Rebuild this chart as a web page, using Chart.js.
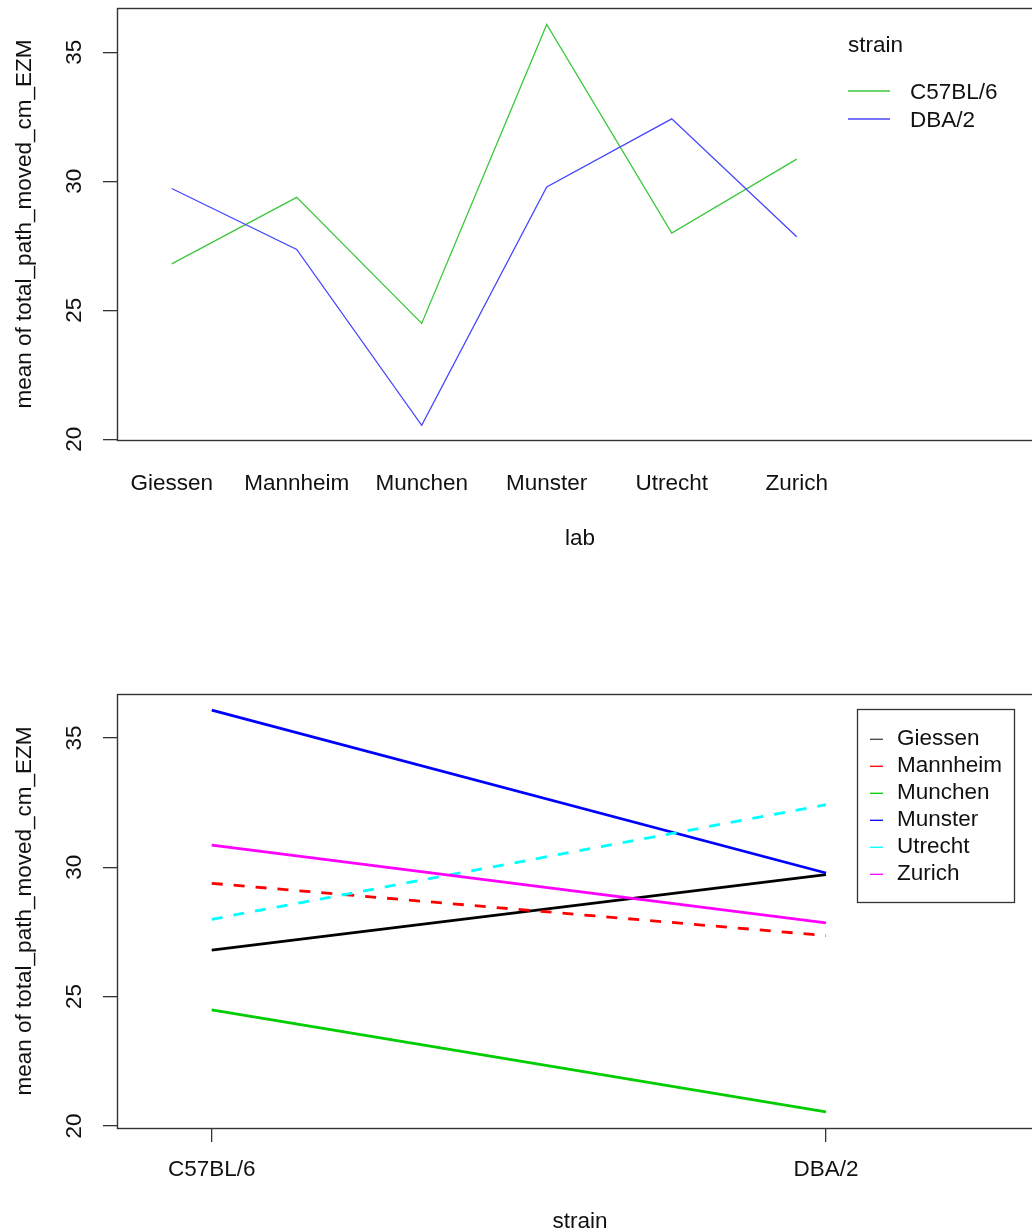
<!DOCTYPE html>
<html>
<head>
<meta charset="utf-8">
<script src="https://cdn.jsdelivr.net/npm/chart.js@4.4.1/dist/chart.umd.min.js"></script>
<style>
  html, body { margin: 0; padding: 0; overflow: hidden; background: #fff; width: 1032px; height: 1232px; }
  canvas { position: absolute; left: 0; }
  #labChart { top: 0; }
  #strainChart { top: 560px; }
</style>
</head>
<body>
<canvas id="labChart" width="1044" height="560"></canvas>
<canvas id="strainChart" width="1044" height="700"></canvas>
<script>
// means
const labs = ['Giessen', 'Mannheim', 'Munchen', 'Munster', 'Utrecht', 'Zurich'];
const strains = ['C57BL/6', 'DBA/2'];
const c57Means = [26.80, 29.38, 24.49, 36.08, 27.99, 30.86];
const dbaMeans = [29.72, 27.36, 20.54, 29.78, 32.42, 27.85];
const yTicks = [20, 25, 30, 35];
const yTitle = 'mean of total_path_moved_cm_EZM';
const traceTitle = 'strain';

const strainColors = ['#3cc83c', '#4646ff'];
const labColors = ['#000000', '#ff0000', '#00cd00', '#0000ff', '#00ffff', '#ff00ff'];
const labLegendColors = ['#444444', '#ff0000', '#00cd00', '#0000ff', '#00ffff', '#ff00ff'];
const labDashed = [false, true, false, false, true, false];

const FONT = "'Liberation Sans', Arial, sans-serif";
const TEXT = '#111';
Chart.defaults.font.family = FONT;
Chart.defaults.font.size = 22.5;
Chart.defaults.color = TEXT;

// force axis box sizes so the plot region lands where R put it
function fixSize(prop, px) {
    return function (scale) {
        scale[prop] = px;
        scale.paddingTop = scale.paddingBottom = scale.paddingLeft = scale.paddingRight = 0;
    };
}

function yAxis(min, max) {
    return {
        type: 'linear',
        min: min,
        max: max,
        afterBuildTicks: s => { s.ticks = yTicks.map(v => ({ value: v })); },
        afterFit: fixSize('width', 117),
        border: { display: false },
        grid: { drawOnChartArea: false, drawTicks: true, tickLength: 14, color: '#333', lineWidth: 1.3 },
        ticks: { minRotation: 90, maxRotation: 90, crossAlign: 'center', padding: 16 },
        title: { display: true, text: yTitle, padding: { top: 11 } }
    };
}

const frame = {
    id: 'frame',
    afterDatasetsDraw(chart) {
        const { ctx, chartArea: a } = chart;
        ctx.save();
        ctx.strokeStyle = '#333';
        ctx.lineWidth = 1.4;
        ctx.strokeRect(Math.round(a.left) + 0.5, Math.round(a.top) + 0.5,
            Math.round(a.right - a.left), Math.round(a.bottom - a.top));
        ctx.restore();
    }
};

// 1. lab on x, one line per strain
const strainLegend = {
    id: 'strainLegend',
    afterDraw(chart) {
        const ctx = chart.ctx;
        ctx.save();
        ctx.font = '22.5px ' + FONT;
        ctx.fillStyle = TEXT;
        ctx.textBaseline = 'middle';
        ctx.textAlign = 'left';
        ctx.fillText(traceTitle, 848, 46);
        chart.data.datasets.forEach((ds, i) => {
            const y = 91 + i * 28;
            ctx.strokeStyle = ds.borderColor;
            ctx.lineWidth = 1.3;
            ctx.beginPath();
            ctx.moveTo(848, y);
            ctx.lineTo(890, y);
            ctx.stroke();
            ctx.fillText(ds.label, 910, y + 1.5);
        });
        ctx.restore();
    }
};

new Chart(document.getElementById('labChart'), {
    type: 'line',
    data: {
        datasets: strains.map((s, k) => ({
            label: s,
            data: [c57Means, dbaMeans][k].map((v, i) => ({ x: i + 1, y: v })),
            borderColor: strainColors[k],
            borderWidth: 1.3,
            pointRadius: 0,
            tension: 0,
            order: -k
        }))
    },
    options: {
        responsive: false,
        devicePixelRatio: 1,
        animation: false,
        layout: { padding: { top: 8, right: 1, left: 0, bottom: 0 } },
        scales: {
            x: {
                type: 'linear',
                min: 0.5624,
                max: 7.970,
                afterBuildTicks: s => { s.ticks = labs.map((l, i) => ({ value: i + 1 })); },
                afterFit: fixSize('height', 120),
                border: { display: false },
                grid: { display: false, drawTicks: false },
                ticks: {
                    autoSkip: false, maxRotation: 0, padding: 30,
                    callback: v => labs[v - 1]
                },
                title: { display: true, text: 'lab', padding: { bottom: 7.5 } }
            },
            y: yAxis(19.97, 36.72)
        },
        plugins: { legend: { display: false }, tooltip: { enabled: false } }
    },
    plugins: [frame, strainLegend]
});

// 2. strain on x, one line per lab
const labLegend = {
    id: 'labLegend',
    afterDraw(chart) {
        const ctx = chart.ctx;
        ctx.save();
        ctx.strokeStyle = '#333';
        ctx.lineWidth = 1.3;
        ctx.strokeRect(857.5, 149.5, 157, 193);
        ctx.font = '22.5px ' + FONT;
        ctx.fillStyle = TEXT;
        ctx.textBaseline = 'middle';
        ctx.textAlign = 'left';
        labs.forEach((lab, i) => {
            const y = 179.3 + i * 27;
            ctx.strokeStyle = labLegendColors[i];
            ctx.lineWidth = 1.3;
            ctx.beginPath();
            ctx.moveTo(870, y);
            ctx.lineTo(883, y);
            ctx.stroke();
            ctx.fillText(lab, 897, y - 1);
        });
        ctx.restore();
    }
};

new Chart(document.getElementById('strainChart'), {
    type: 'line',
    data: {
        datasets: labs.map((lab, i) => ({
            label: lab,
            data: [{ x: 1, y: c57Means[i] }, { x: 2, y: dbaMeans[i] }],
            borderColor: labColors[i],
            borderWidth: 2.8,
            borderDash: labDashed[i] ? [11, 11] : [],
            pointRadius: 0,
            tension: 0,
            order: -i
        }))
    },
    options: {
        responsive: false,
        devicePixelRatio: 1,
        animation: false,
        layout: { padding: { top: 134, right: 1, left: 0, bottom: 0 } },
        scales: {
            x: {
                type: 'linear',
                min: 0.8458,
                max: 2.3533,
                afterBuildTicks: s => { s.ticks = strains.map((l, i) => ({ value: i + 1 })); },
                afterFit: fixSize('height', 132),
                border: { display: false },
                grid: { drawOnChartArea: false, drawTicks: true, tickLength: 14, color: '#333', lineWidth: 1.3 },
                ticks: {
                    autoSkip: false, maxRotation: 0, padding: 14.5,
                    callback: v => strains[v - 1]
                },
                title: { display: true, text: traceTitle, padding: { bottom: 24.5 } }
            },
            y: yAxis(19.92, 36.70)
        },
        plugins: { legend: { display: false }, tooltip: { enabled: false } }
    },
    plugins: [frame, labLegend]
});
</script>
</body>
</html>
